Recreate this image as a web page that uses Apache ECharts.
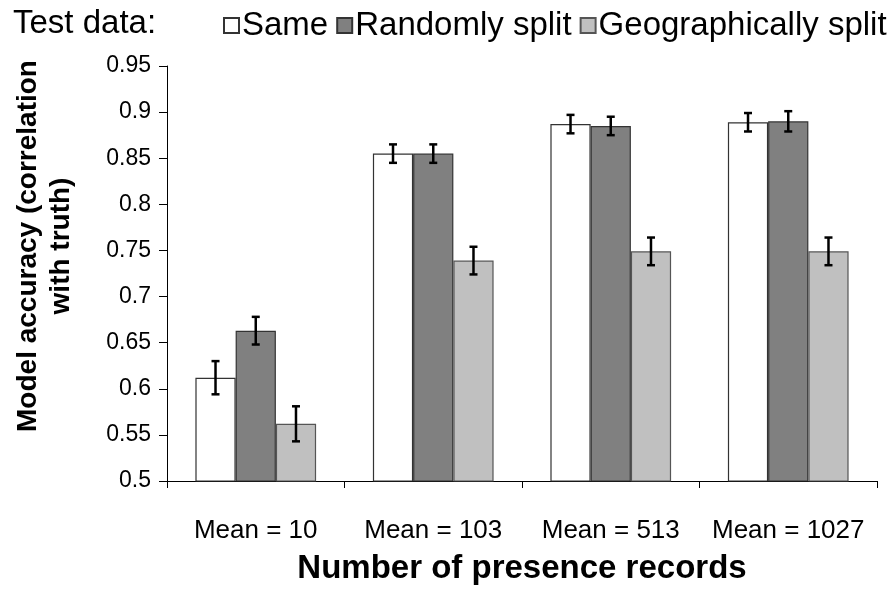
<!DOCTYPE html>
<html>
<head>
<meta charset="utf-8">
<script src="https://cdn.jsdelivr.net/npm/echarts@6/dist/echarts.min.js"></script>
<style>
html,body{margin:0;padding:0;background:#fff;}
#chart{width:893px;height:590px;}
</style>
</head>
<body>
<div id="chart"></div>
<script>
// ---- data ----
const categories = ['Mean = 10', 'Mean = 103', 'Mean = 513', 'Mean = 1027'];
const seriesNames = ['Same', 'Randomly split', 'Geographically split'];
const sameValues = [0.612, 0.855, 0.887, 0.889];
const randomValues = [0.663, 0.855, 0.885, 0.890];
const geoValues = [0.562, 0.739, 0.749, 0.749];
const sameErr = [0.018, 0.010, 0.010, 0.010];
const randomErr = [0.015, 0.010, 0.010, 0.011];
const geoErr = [0.019, 0.015, 0.015, 0.015];
const yTicks = [0.5, 0.55, 0.6, 0.65, 0.7, 0.75, 0.8, 0.85, 0.9, 0.95];

const FONT = 'Liberation Sans, Arial, sans-serif';
const fills = ['#ffffff', '#808080', '#c0c0c0'];
const borders = ['#333333', '#333333', '#555555'];
const valuesAll = [sameValues, randomValues, geoValues];
const errAll = [sameErr, randomErr, geoErr];
const CAT_GAP = 0.32;

const chart = echarts.init(document.getElementById('chart'));

function errorSeries(idx) {
  const data = categories.map((c, i) => [i, valuesAll[idx][i] - errAll[idx][i], valuesAll[idx][i] + errAll[idx][i]]);
  return {
    type: 'custom',
    name: seriesNames[idx] + ' error',
    z: 10,
    silent: true,
    renderItem: function (params, api) {
      const xi = api.value(0);
      const lo = api.coord([xi, api.value(1)]);
      const hi = api.coord([xi, api.value(2)]);
      const band = api.size([1, 0])[0];
      const bw = band * (1 - CAT_GAP) / 3;
      const x = lo[0] + (idx - 1) * bw;
      const cap = 4;
      const style = { stroke: '#000', lineWidth: 2.5 };
      return {
        type: 'group',
        children: [
          { type: 'line', shape: { x1: x, y1: hi[1], x2: x, y2: lo[1] }, style: style },
          { type: 'line', shape: { x1: x - cap, y1: hi[1], x2: x + cap, y2: hi[1] }, style: style },
          { type: 'line', shape: { x1: x - cap, y1: lo[1], x2: x + cap, y2: lo[1] }, style: style }
        ]
      };
    },
    encode: { x: 0, y: [1, 2] },
    data: data
  };
}

const barSeries = seriesNames.map((n, idx) => ({
  type: 'bar',
  name: n,
  data: valuesAll[idx],
  barGap: '0%',
  barCategoryGap: (CAT_GAP * 100) + '%',
  itemStyle: { color: fills[idx], borderColor: borders[idx], borderWidth: 1.2 },
  emphasis: { disabled: true }
}));

chart.setOption({
  animation: false,
  backgroundColor: '#fff',
  textStyle: { fontFamily: FONT },
  title: {
    text: 'Test data:',
    left: 8, top: 2,
    textStyle: { fontFamily: FONT, fontSize: 33, fontWeight: 'normal', color: '#000' }
  },
  legend: {
    data: seriesNames,
    left: 218, top: 4,
    itemWidth: 15, itemHeight: 15,
    itemGap: 8,
    icon: 'rect',
    selectedMode: false,
    textStyle: { fontFamily: FONT, fontSize: 33, color: '#000', padding: [0, 0, 0, -2] }
  },
  grid: { left: 167, right: 16, top: 66, bottom: 104, containLabel: false },
  xAxis: {
    type: 'category',
    data: categories,
    name: 'Number of presence records',
    nameLocation: 'middle',
    nameGap: 71,
    nameTextStyle: { fontFamily: FONT, fontSize: 33, fontWeight: 'bold', color: '#000', verticalAlign: 'top' },
    axisLine: { lineStyle: { color: '#000', width: 1 } },
    axisTick: { show: true, alignWithLabel: false, length: 7, lineStyle: { color: '#000' } },
    axisLabel: { fontFamily: FONT, fontSize: 26, color: '#000', margin: 37, interval: 0 }
  },
  yAxis: {
    type: 'value',
    min: 0.5, max: 0.95, interval: 0.05,
    name: 'Model accuracy (correlation\nwith truth)',
    nameLocation: 'middle',
    nameGap: 89,
    nameRotate: 90,
    nameTextStyle: { fontFamily: FONT, fontSize: 28, fontWeight: 'bold', color: '#000', lineHeight: 33, align: 'center', padding: [0, 0, 0, 55] },
    axisLine: { show: true, lineStyle: { color: '#000', width: 1 } },
    axisTick: { show: true, length: 8, lineStyle: { color: '#000' } },
    splitLine: { show: false },
    axisLabel: {
      fontFamily: FONT, fontSize: 23, color: '#000', margin: 16,
      formatter: v => String(+v.toFixed(2))
    }
  },
  series: [...barSeries, errorSeries(0), errorSeries(1), errorSeries(2)]
});
</script>
</body>
</html>
